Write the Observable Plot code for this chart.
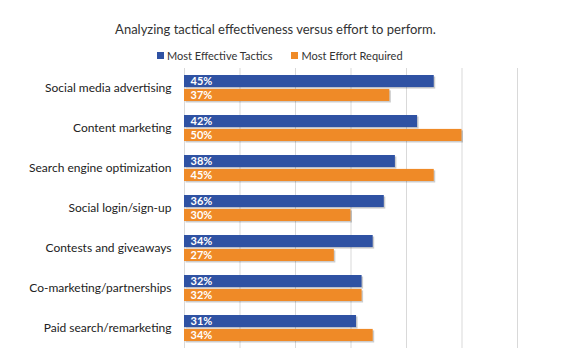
<!DOCTYPE html>
<html><head><meta charset="utf-8">
<script src="https://cdn.jsdelivr.net/npm/d3@7"></script>
<script src="https://cdn.jsdelivr.net/npm/@observablehq/plot@0.6"></script>
<style>
body{margin:0;background:#fff;font-family:Lato,"Open Sans",sans-serif;}
#wrap{position:relative;width:570px;height:356px;overflow:hidden;}
#title{position:absolute;top:21px;left:0;width:551px;text-align:center;font-size:13px;color:#333;white-space:nowrap;}
#legend{position:absolute;top:49px;left:157px;font-size:11px;color:#333;white-space:nowrap;display:flex;align-items:center;}
#legend .sw{display:inline-block;width:7px;height:7px;margin-right:3px;}
#legend .item{display:flex;align-items:center;}
#chart{position:absolute;top:0;left:0;}
</style>
</head><body>
<div id="wrap">
  <div id="chart"></div>
  <div id="title">Analyzing tactical effectiveness versus effort to perform.</div>
  <div id="legend"></div>
</div>
<script>
const categories = ["Social media advertising","Content marketing","Search engine optimization","Social login/sign-up","Contests and giveaways","Co-marketing/partnerships","Paid search/remarketing"];
const series = ["Most Effective Tactics","Most Effort Required"];
const effective = [45,42,38,36,34,32,31];
const effort = [37,50,45,30,27,32,34];
const colors = ["#2F52A3","#EF8A27"];
const xTicks = [0,10,20,30,40,50,60];

const rowsEff = categories.map((c,i)=>({category:c, series:series[0], value:effective[i]}));
const rowsEffort = categories.map((c,i)=>({category:c, series:series[1], value:effort[i]}));

const half = 13.9;
const common = {y:"category", x:"value"};

const plot = Plot.plot({
  width:570, height:356,
  marginLeft:184, marginRight:53, marginTop:68, marginBottom:8,
  style:{fontFamily:"Lato, 'Open Sans', sans-serif", background:"transparent"},
  x:{domain:[0,60], axis:null},
  y:{domain:categories, paddingInner:0.34, paddingOuter:0.17, label:null},
  color:{domain:series, range:colors},
  marks:[
    Plot.ruleX(xTicks, {stroke:"#d9d9d9", strokeWidth:1}),
    Plot.barX(rowsEff, {...common, dx:1.5, dy:1.5, fill:"#000", fillOpacity:0.2, insetBottom:half}),
    Plot.barX(rowsEffort, {...common, dx:1.5, dy:1.5, fill:"#000", fillOpacity:0.2, insetTop:half}),
    Plot.barX(rowsEff, {...common, fill:"series", insetBottom:half}),
    Plot.barX(rowsEffort, {...common, fill:"series", insetTop:half}),
    Plot.text(rowsEff, {y:"category", frameAnchor:"left", dx:6, dy:-6.8, text:d=>d.value+"%", fill:"white", fontWeight:"bold", fontSize:11, textAnchor:"start"}),
    Plot.text(rowsEffort, {y:"category", frameAnchor:"left", dx:6, dy:7, text:d=>d.value+"%", fill:"white", fontWeight:"bold", fontSize:11, textAnchor:"start"}),
    Plot.axisY({tickSize:0, tickPadding:13, fontSize:12, fill:"#222", label:null})
  ]
});
document.getElementById("chart").appendChild(plot);

const legend = document.getElementById("legend");
series.forEach((s,i)=>{
  const it = document.createElement("span");
  it.className="item";
  if(i>0) it.style.marginLeft="19px";
  const sw = document.createElement("span");
  sw.className="sw"; sw.style.background=colors[i];
  it.appendChild(sw);
  it.appendChild(document.createTextNode(s));
  legend.appendChild(it);
});
</script>
</body></html>
